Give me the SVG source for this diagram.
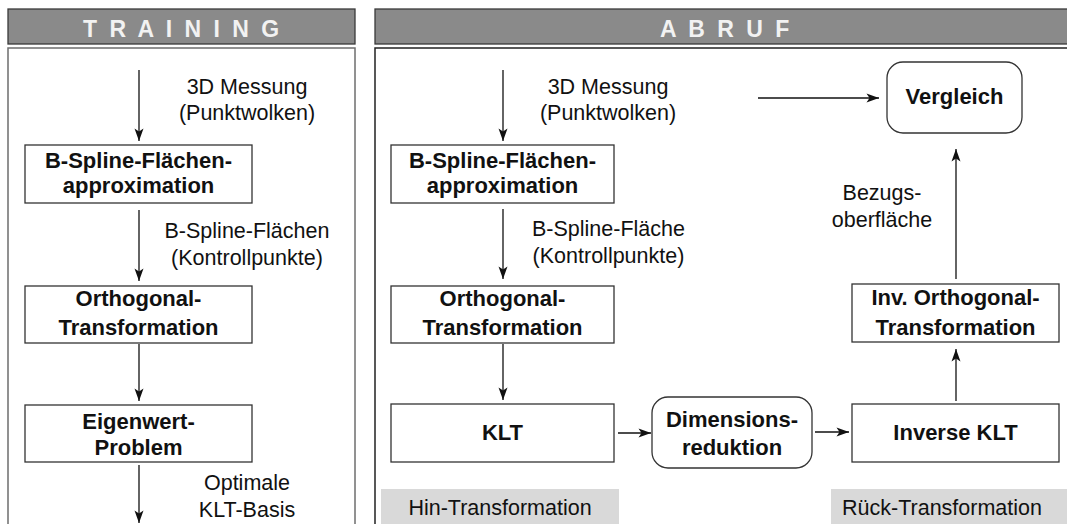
<svg xmlns="http://www.w3.org/2000/svg" width="1067" height="524" viewBox="0 0 1067 524">
  <style>
    .hdr { fill: #8a8a8a; stroke: #3a3a3a; stroke-width: 1.3; }
    .hdrtxt { font-family: "Liberation Sans", Arial, sans-serif; font-weight: bold; font-size: 23px; fill: #f2f2f2; letter-spacing: 3px; }
    .panel { fill: #ffffff; stroke: #6e6e6e; stroke-width: 1.5; }
    .box { fill: #ffffff; stroke: #333333; stroke-width: 1.3; }
    .bt { font-family: "Liberation Sans", Arial, sans-serif; font-weight: bold; font-size: 22px; fill: #111111; text-anchor: middle; }
    .lt { font-family: "Liberation Sans", Arial, sans-serif; font-size: 21.5px; fill: #111111; text-anchor: middle; }
    .tag { fill: #d9d9d9; }
    .arr { stroke: #111111; stroke-width: 1.3; fill: none; marker-end: url(#head); }
  </style>
  <defs>
    <marker id="head" markerUnits="userSpaceOnUse" markerWidth="14" markerHeight="10" viewBox="-13 -5 14 10" refX="0" refY="0" orient="auto">
      <path d="M0,0 L-12.5,-4.5 L-9.5,0 L-12.5,4.5 Z" fill="#111111"/>
    </marker>
  </defs>

  <!-- Training panel -->
  <g id="panel-training">
    <rect class="panel" x="8" y="48" width="347" height="490"/>
    <rect class="hdr" x="8" y="9" width="347" height="35"/>
    <text class="hdrtxt" x="83" y="37">T R A I N I N G</text>
  </g>

  <!-- Abruf panel -->
  <g id="panel-abruf">
    <rect class="panel" x="375" y="48" width="700" height="490" style="stroke:#222222"/>
    <rect class="hdr" x="375" y="9" width="700" height="35"/>
    <text class="hdrtxt" x="660" y="37">A B R U F</text>
  </g>

  <!-- Section tags -->
  <g id="tag-hin">
    <rect class="tag" x="381" y="489" width="238" height="40"/>
    <text class="lt" x="500" y="515">Hin-Transformation</text>
  </g>
  <g id="tag-rueck">
    <rect class="tag" x="831" y="489" width="240" height="40"/>
    <text class="lt" x="942" y="515">Rück-Transformation</text>
  </g>

  <!-- Training nodes -->
  <g id="t-bspline">
    <rect class="box" x="25" y="145" width="227" height="58"/>
    <text class="bt" x="138.5" y="168">B-Spline-Flächen-</text>
    <text class="bt" x="138.5" y="193">approximation</text>
  </g>
  <g id="t-ortho">
    <rect class="box" x="25" y="286" width="227" height="57"/>
    <text class="bt" x="138.5" y="306">Orthogonal-</text>
    <text class="bt" x="138.5" y="335">Transformation</text>
  </g>
  <g id="t-eigen">
    <rect class="box" x="25" y="405" width="227" height="57"/>
    <text class="bt" x="138.5" y="429">Eigenwert-</text>
    <text class="bt" x="138.5" y="455">Problem</text>
  </g>

  <!-- Abruf nodes -->
  <g id="a-bspline">
    <rect class="box" x="391" y="145" width="223" height="58"/>
    <text class="bt" x="502.5" y="168">B-Spline-Flächen-</text>
    <text class="bt" x="502.5" y="193">approximation</text>
  </g>
  <g id="a-ortho">
    <rect class="box" x="391" y="286" width="223" height="57"/>
    <text class="bt" x="502.5" y="306">Orthogonal-</text>
    <text class="bt" x="502.5" y="335">Transformation</text>
  </g>
  <g id="a-klt">
    <rect class="box" x="391" y="404" width="223" height="58"/>
    <text class="bt" x="502.5" y="440">KLT</text>
  </g>
  <g id="a-dimred">
    <rect class="box" x="652" y="397" width="160" height="71" rx="16" ry="16"/>
    <text class="bt" x="732" y="427">Dimensions-</text>
    <text class="bt" x="732" y="455">reduktion</text>
  </g>
  <g id="a-invklt">
    <rect class="box" x="852" y="404" width="207" height="58"/>
    <text class="bt" x="955.5" y="440">Inverse KLT</text>
  </g>
  <g id="a-invortho">
    <rect class="box" x="852" y="284" width="207" height="58"/>
    <text class="bt" x="955.5" y="305">Inv. Orthogonal-</text>
    <text class="bt" x="955.5" y="335">Transformation</text>
  </g>
  <g id="a-vergleich">
    <rect class="box" x="887" y="62" width="135" height="71" rx="16" ry="16"/>
    <text class="bt" x="954.5" y="104">Vergleich</text>
  </g>

  <!-- Connectors -->
  <g id="connectors">
    <line class="arr" x1="139" y1="70" x2="139" y2="141"/>
    <line class="arr" x1="139" y1="210" x2="139" y2="281"/>
    <line class="arr" x1="139" y1="344" x2="139" y2="401"/>
    <line class="arr" x1="139" y1="465" x2="139" y2="523"/>

    <line class="arr" x1="503" y1="70" x2="503" y2="141"/>
    <line class="arr" x1="503" y1="209" x2="503" y2="279"/>
    <line class="arr" x1="503" y1="344" x2="503" y2="400"/>
    <line class="arr" x1="618" y1="433" x2="651" y2="433"/>
    <line class="arr" x1="815" y1="432" x2="849" y2="432"/>
    <line class="arr" x1="956" y1="401" x2="956" y2="349"/>
    <line class="arr" x1="956" y1="279" x2="956" y2="149"/>
    <line class="arr" x1="758" y1="98" x2="879" y2="98"/>
  </g>

  <!-- Connector labels -->
  <g id="labels">
    <text class="lt" x="247" y="94">3D Messung</text>
    <text class="lt" x="247" y="120">(Punktwolken)</text>
    <text class="lt" x="247" y="238">B-Spline-Flächen</text>
    <text class="lt" x="247" y="265">(Kontrollpunkte)</text>
    <text class="lt" x="247" y="490">Optimale</text>
    <text class="lt" x="247" y="517">KLT-Basis</text>

    <text class="lt" x="608" y="94">3D Messung</text>
    <text class="lt" x="608" y="120">(Punktwolken)</text>
    <text class="lt" x="608.5" y="236">B-Spline-Fläche</text>
    <text class="lt" x="608.5" y="263">(Kontrollpunkte)</text>

    <text class="lt" x="882" y="200">Bezugs-</text>
    <text class="lt" x="882" y="227">oberfläche</text>
  </g>
</svg>
